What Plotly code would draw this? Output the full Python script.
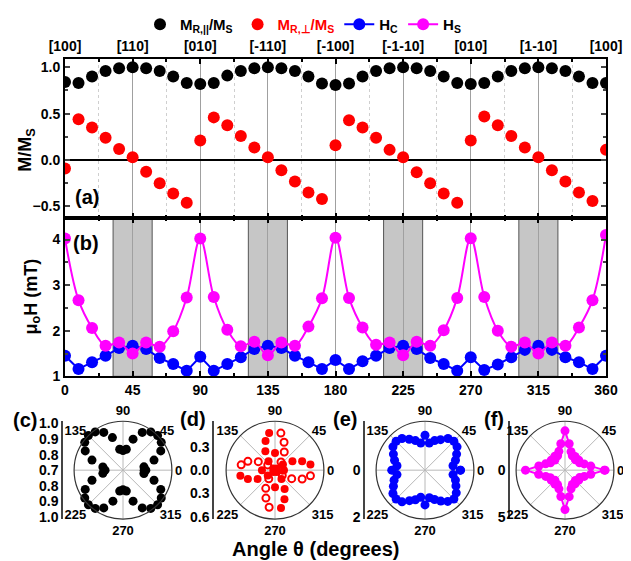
import plotly.graph_objects as go

# ---------------- data ----------------
theta = [0, 9, 18, 27, 36, 45, 54, 63, 72, 81, 90, 99, 108, 117, 126, 135, 144, 153, 162, 171,
         180, 189, 198, 207, 216, 225, 234, 243, 252, 261, 270, 279, 288, 297, 306, 315, 324, 333,
         342, 351, 360]

m_par = [0.84, 0.83, 0.90, 0.96, 0.99, 1.00, 0.99, 0.96, 0.90, 0.83,
         0.82, 0.83, 0.91, 0.96, 0.99, 1.00, 0.99, 0.96, 0.90, 0.825,
         0.81, 0.825, 0.90, 0.96, 0.99, 1.00, 0.99, 0.96, 0.90, 0.83,
         0.82, 0.83, 0.90, 0.96, 0.99, 1.00, 0.99, 0.96, 0.90, 0.83,
         0.83]

m_perp = [-0.09, 0.44, 0.35, 0.24, 0.12, 0.03, -0.125, -0.25, -0.36, -0.46,
          0.21, 0.46, 0.375, 0.26, 0.135, 0.03, -0.11, -0.23, -0.35, -0.42,
          0.16, 0.43, 0.35, 0.24, 0.11, 0.03, -0.13, -0.25, -0.36, -0.46,
          0.21, 0.47, 0.375, 0.26, 0.135, 0.03, -0.11, -0.23, -0.35, -0.44,
          0.11]

h_c = [1.45, 1.16, 1.31, 1.45, 1.62, 1.67, 1.60, 1.40, 1.27, 1.12,
       1.43, 1.12, 1.27, 1.42, 1.60, 1.67, 1.62, 1.45, 1.31, 1.16,
       1.36, 1.16, 1.33, 1.45, 1.62, 1.67, 1.60, 1.40, 1.27, 1.12,
       1.42, 1.14, 1.26, 1.42, 1.58, 1.67, 1.58, 1.42, 1.31, 1.16,
       1.45]

h_s = [4.02, 2.67, 2.06, 1.67, 1.74, 1.50, 1.74, 1.65, 1.99, 2.73,
       4.02, 2.74, 2.02, 1.66, 1.76, 1.46, 1.74, 1.67, 2.09, 2.71,
       4.04, 2.72, 2.07, 1.69, 1.74, 1.46, 1.76, 1.67, 2.01, 2.72,
       4.03, 2.74, 2.00, 1.65, 1.74, 1.50, 1.74, 1.67, 2.07, 2.67,
       4.10]

angle_ticks = [0, 45, 90, 135, 180, 225, 270, 315, 360]
direction_labels = ["[100]", "[110]", "[010]", "[-110]", "[-100]", "[-1-10]", "[010]", "[1-10]", "[100]"]
shaded_ranges = [(32, 58), (122, 148), (212, 238), (302, 328)]

polar_ticks = [0, 45, 90, 135, 180, 225, 270, 315]
polar_tick_labels = ["0", "45", "90", "135", "", "225", "270", "315"]

radial_c_vals = [1, 2 / 3, 1 / 3, 0, -1 / 3, -2 / 3, -1]
radial_c_text = ["1.0", "0.9", "0.8", "0.7", "0.8", "0.9", "1.0"]
radial_d_vals = [0.5, 0, -0.5, -1]
radial_d_text = ["0.3", "0.0", "0.3", "0.6"]
radial_e_vals = [0, -1]
radial_e_text = ["0", "2"]
radial_f_vals = [0, -1]
radial_f_text = ["0", "5"]

# ---------------- geometry helpers ----------------
OFF = 8                      # page body margin
W, H = 631 - OFF, 561 - OFF  # visible figure size
FONT = "Liberation Sans, Arial, sans-serif"


def px_x(v):
    return (v - OFF) / W


def px_y(v):
    return 1 - (v - OFF) / H


def bfont(size, color="black"):
    return dict(family=FONT, size=size, color=color, weight="bold")


fig = go.Figure()

# ---------------- panel (a) ----------------
fig.add_trace(go.Scatter(x=theta, y=m_par, mode="markers", xaxis="x2", yaxis="y2",
                         marker=dict(color="black", size=12),
                         name="M<sub>R,||</sub>/M<sub>S</sub>"))
fig.add_trace(go.Scatter(x=theta, y=m_perp, mode="markers", xaxis="x2", yaxis="y2",
                         marker=dict(color="#ff0000", size=12),
                         name="<span style='color:#ff0000'>M<sub>R,⊥</sub>/M<sub>S</sub></span>"))

# ---------------- panel (b) ----------------
fig.add_trace(go.Scatter(x=theta, y=h_c, mode="lines+markers", xaxis="x", yaxis="y",
                         line=dict(color="#0000ff", width=2),
                         marker=dict(color="#0000ff", size=12),
                         name="H<sub>C</sub>"))
fig.add_trace(go.Scatter(x=theta, y=h_s, mode="lines+markers", xaxis="x", yaxis="y",
                         line=dict(color="#ff00ff", width=2, shape="spline", smoothing=1.0),
                         marker=dict(color="#ff00ff", size=12),
                         name="H<sub>S</sub>"))

for x0, x1 in shaded_ranges:
    fig.add_shape(type="rect", xref="x", yref="y domain", x0=x0, x1=x1, y0=0, y1=1,
                  fillcolor="#c6c6c6", line=dict(color="#555555", width=1), layer="below")

# ---------------- polar panels ----------------
pos_t = [t for t, v in zip(theta, m_perp) if v >= 0]
pos_r = [v for v in m_perp if v >= 0]
neg_t = [t for t, v in zip(theta, m_perp) if v < 0]
neg_r = [-v for v in m_perp if v < 0]

fig.add_trace(go.Scatterpolar(theta=theta, r=m_par, mode="markers", subplot="polar",
                              marker=dict(color="black", size=9), showlegend=False))
fig.add_trace(go.Scatterpolar(theta=pos_t, r=pos_r, mode="markers", subplot="polar2",
                              marker=dict(color="#ff0000", size=8), showlegend=False))
fig.add_trace(go.Scatterpolar(theta=neg_t, r=neg_r, mode="markers", subplot="polar2",
                              marker=dict(color="#ff0000", size=7, symbol="circle-open",
                                          line=dict(width=2, color="#ff0000")), showlegend=False))
fig.add_trace(go.Scatterpolar(theta=theta, r=h_c, mode="lines+markers", subplot="polar3",
                              line=dict(color="#0000ff", width=2),
                              marker=dict(color="#0000ff", size=9), showlegend=False))
fig.add_trace(go.Scatterpolar(theta=theta, r=h_s, mode="lines+markers", subplot="polar4",
                              line=dict(color="#ff00ff", width=2),
                              marker=dict(color="#ff00ff", size=9), showlegend=False))

centers = [123, 275, 425, 565]
cy = 470
rad = 49
radial_ranges = [[0.7, 1.0], [0, 0.6], [0, 2], [0, 5]]
polar_names = ["polar", "polar2", "polar3", "polar4"]
layout_polars = {}
for name, cx, rr in zip(polar_names, centers, radial_ranges):
    layout_polars[name] = dict(
        domain=dict(x=[px_x(cx - rad), px_x(cx + rad)], y=[px_y(cy + rad), px_y(cy - rad)]),
        bgcolor="white",
        radialaxis=dict(range=rr, showline=False, showticklabels=False, showgrid=False, ticks=""),
        angularaxis=dict(tickmode="array", tickvals=polar_ticks, ticktext=polar_tick_labels,
                         showgrid=True, gridcolor="#b8b8b8", gridwidth=1,
                         showline=True, linecolor="#333333", linewidth=1.2, ticks="",
                         tickfont=bfont(13), direction="counterclockwise", rotation=0),
    )

# radial scale bars (cartesian axes beside each polar)
bar_x = [63, 214, 365, 510]
radial_sets = [(radial_c_vals, radial_c_text), (radial_d_vals, radial_d_text),
               (radial_e_vals, radial_e_text), (radial_f_vals, radial_f_text)]
layout_bars = {}
for i, (bx, (vals, texts)) in enumerate(zip(bar_x, radial_sets)):
    n = i + 3
    fig.add_trace(go.Scatter(x=[None], y=[None], xaxis=f"x{n}", yaxis=f"y{n}",
                             mode="markers", showlegend=False, hoverinfo="skip"))
    layout_bars[f"xaxis{n}"] = dict(domain=[px_x(bx), px_x(bx + 1)], anchor=f"y{n}", visible=False,
                                    range=[0, 1])
    layout_bars[f"yaxis{n}"] = dict(domain=[px_y(cy + rad), px_y(cy - rad)], anchor=f"x{n}",
                                    range=[-1.05, 1.05], tickmode="array", tickvals=vals,
                                    ticktext=texts, showline=True, linecolor="#444444", linewidth=1.5,
                                    ticks="", showgrid=False, zeroline=False, tickfont=bfont(14),
                                    automargin=False)

# ---------------- layout ----------------
x_dom = [px_x(65), px_x(606)]
fig.update_layout(
    width=W, height=H, autosize=False,
    margin=dict(l=0, r=0, t=0, b=0),
    paper_bgcolor="white", plot_bgcolor="white",
    showlegend=True,
    legend=dict(orientation="h", x=px_x(303), xanchor="center", y=px_y(24), yanchor="middle",
                font=bfont(15), bgcolor="rgba(0,0,0,0)", itemwidth=30, tracegroupgap=0),
    xaxis=dict(domain=x_dom, anchor="y", range=[0, 360], tickmode="array", tickvals=angle_ticks,
               ticks="inside", ticklen=5, tickwidth=1.5, tickcolor="black",
               showline=True, linecolor="black", linewidth=2, mirror="ticks",
               showgrid=True, gridcolor="#a0a0a0", gridwidth=1, zeroline=False,
               minor=dict(tickmode="linear", tick0=0, dtick=22.5, ticks="inside", ticklen=3,
                          tickcolor="black", showgrid=False),
               tickfont=bfont(14), automargin=False),
    yaxis=dict(domain=[px_y(376), px_y(217)], anchor="x", range=[1.0, 4.48],
               tickmode="array", tickvals=[1, 2, 3, 4], ticks="inside", ticklen=5, tickwidth=1.5,
               showline=True, linecolor="black", linewidth=2, mirror="ticks",
               showgrid=False, zeroline=False, tickfont=bfont(14),
               minor=dict(tickmode="linear", tick0=1, dtick=0.5, ticks="inside", ticklen=3),
               automargin=False),
    xaxis2=dict(domain=x_dom, anchor="y2", side="top", matches="x", range=[0, 360],
                tickmode="array", tickvals=angle_ticks, ticktext=direction_labels,
                ticks="inside", ticklen=5, tickwidth=1.5, tickcolor="black",
                showline=True, linecolor="black", linewidth=2, mirror="ticks",
                showgrid=True, gridcolor="#a0a0a0", gridwidth=1, zeroline=False,
                minor=dict(tickmode="linear", tick0=0, dtick=22.5, ticks="inside", ticklen=3,
                           tickcolor="black", showgrid=True, gridcolor="#cfcfcf", griddash="dot"),
                tickfont=bfont(14), automargin=False),
    yaxis2=dict(domain=[px_y(217), px_y(58)], anchor="x2", range=[-0.62, 1.09],
                tickmode="array", tickvals=[-0.5, 0, 0.5, 1.0], tickformat=".1f",
                ticks="inside", ticklen=5, tickwidth=1.5,
                showline=True, linecolor="black", linewidth=2, mirror="ticks",
                showgrid=False, zeroline=True, zerolinecolor="black", zerolinewidth=1.5,
                minor=dict(tickmode="linear", tick0=0, dtick=0.25, ticks="inside", ticklen=3),
                tickfont=bfont(14), automargin=False),
    **layout_polars,
    **layout_bars,
)

# axis titles, panel labels and bottom title
fig.add_annotation(text="M/M<sub>S</sub>", x=px_x(27), y=px_y(150), xref="paper", yref="paper",
                   showarrow=False, font=bfont(18), textangle=-90, xanchor="center", yanchor="middle")
fig.add_annotation(text="μ<sub>o</sub>H (mT)", x=px_x(32), y=px_y(296), xref="paper", yref="paper",
                   showarrow=False, font=bfont(18), textangle=-90, xanchor="center", yanchor="middle")

panel_labels = [("(a)", 87, 196, 20), ("(b)", 86, 242, 20), ("(c)", 25, 420, 20),
                ("(d)", 193, 419, 20), ("(e)", 345, 419, 20), ("(f)", 494, 419, 20)]
for txt, x, y, s in panel_labels:
    fig.add_annotation(text=txt, x=px_x(x), y=px_y(y), xref="paper", yref="paper",
                       showarrow=False, font=bfont(s), xanchor="center", yanchor="middle")

fig.add_annotation(text="Angle θ (degrees)", x=px_x(316), y=px_y(549), xref="paper", yref="paper",
                   showarrow=False, font=bfont(20), xanchor="center", yanchor="middle")

fig.write_html("out.html")
